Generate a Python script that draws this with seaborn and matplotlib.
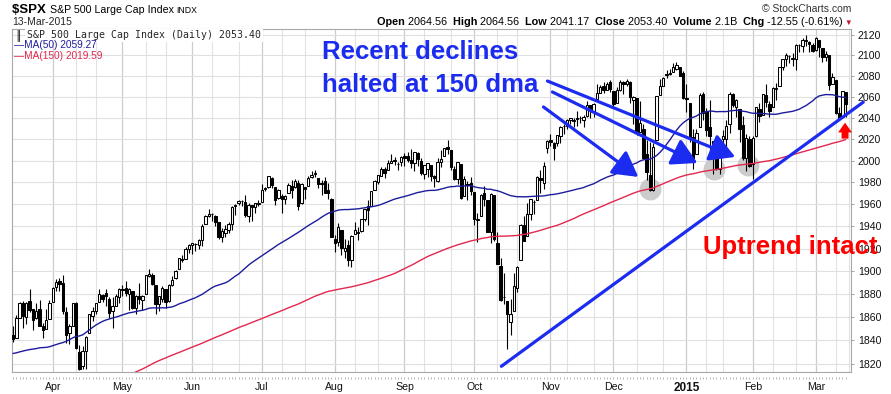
import numpy as np
import pandas as pd
import matplotlib
matplotlib.use("Agg")
import matplotlib.pyplot as plt
import matplotlib.transforms as mtransforms
from matplotlib.ticker import FixedLocator, NullLocator, FixedFormatter
import seaborn as sns

# =========================
# DATA
# =========================

holidays = ["2014-04-18", "2014-05-26", "2014-07-04", "2014-09-01", "2014-11-27",
            "2014-12-25", "2015-01-01", "2015-01-19", "2015-02-16"]
dates = pd.bdate_range("2014-03-14", "2015-03-13")
dates = dates[~dates.isin(pd.to_datetime(holidays))]

# closes before the visible window, only used to seed the moving averages
closes_before = [
    1697.4, 1692.8, 1698.7, 1691.8, 1681.6,
    1695.0, 1693.9, 1678.7, 1690.5, 1676.1, 1655.5, 1656.4, 1692.6, 1703.2, 1710.1, 1698.1, 1721.5,
    1733.2, 1744.5, 1744.7, 1754.7, 1746.4, 1752.1, 1759.8, 1762.1, 1771.9, 1763.3, 1756.5,
    1761.6, 1767.9, 1763.0, 1770.5, 1747.2, 1770.6, 1771.9, 1768.0, 1782.0, 1790.6, 1798.2, 1791.5,
    1787.9, 1781.4, 1795.9, 1804.8, 1802.5, 1802.8, 1807.2, 1805.8,
    1800.9, 1795.2, 1792.8, 1785.0, 1805.1, 1808.4, 1802.6, 1782.2, 1775.5, 1775.3, 1786.5, 1781.0,
    1810.7, 1809.6, 1818.3, 1828.0, 1833.3, 1842.0, 1841.4, 1841.1, 1848.4,
    1832.0, 1831.4, 1826.8, 1837.9, 1837.5, 1838.1, 1842.4, 1819.2, 1838.9, 1848.4, 1845.9, 1838.7,
    1843.8, 1844.9, 1828.5, 1790.3, 1781.6, 1792.5, 1774.2, 1794.2, 1782.6,
    1741.9, 1755.2, 1751.6, 1773.4, 1797.0, 1799.8, 1819.8, 1819.3, 1829.8, 1838.6, 1840.8, 1828.8,
    1839.8, 1836.3, 1847.6, 1845.1, 1845.2, 1854.3, 1859.5,
    1845.7, 1873.9, 1873.8, 1877.0, 1878.0, 1877.2, 1867.6, 1868.2, 1846.3,
]

opens = [
    1845, 1842, 1859, 1872, 1860, 1874, 1867, 1859, 1867, 1852, 1850, 1858,
    1873, 1886, 1891, 1890, 1864, 1846, 1852, 1872, 1830, 1818, 1831, 1846, 1861, 1865, 1873, 1879, 1881, 1876, 1865, 1870, 1877,
    1884, 1885, 1880, 1883, 1868, 1878, 1875, 1880, 1896, 1897, 1888, 1871, 1876, 1884, 1874, 1888, 1894, 1902, 1911, 1911, 1920,
    1923, 1924, 1923, 1928, 1942, 1949, 1951, 1949, 1944, 1930, 1934, 1937, 1942, 1958, 1961, 1963, 1962, 1949, 1959, 1957, 1961,
    1962, 1974, 1976, 1984, 1976, 1966, 1967, 1965, 1970, 1977, 1976, 1979, 1961, 1976, 1977, 1985, 1988, 1984, 1978, 1981, 1973, 1965,
    1929, 1926, 1937, 1918, 1923, 1910, 1933, 1935, 1936, 1947, 1958, 1958, 1973, 1980, 1986, 1992, 1991, 1998, 2000, 1997, 1999,
    2004, 2004, 2001, 1998, 2007, 2000, 1988, 1992, 1996, 1986, 1981, 1999, 2004, 2013, 2010, 1992, 1983, 1997, 1967, 1978, 1979,
    1971, 1946, 1949, 1970, 1964, 1935, 1968, 1925, 1905, 1877, 1874, 1856, 1865, 1885, 1910, 1941, 1931, 1951, 1962, 1964, 1984, 1979, 2012,
    2019, 2016, 2016, 2023, 2032, 2032, 2038, 2037, 2040, 2040, 2038, 2042, 2052, 2046, 2058, 2064, 2070, 2067, 2074,
    2066, 2054, 2067, 2074, 2072, 2074, 2057, 2059, 2027, 2030, 2006, 1987, 1973, 2019, 2062, 2070, 2081, 2083, 2084, 2087, 2089, 2083,
    2059, 2054, 2022, 2006, 2031, 2063, 2047, 2031, 2018, 2013, 1992, 2020, 2020, 2034, 2063, 2050, 2048, 2033, 2002, 2020,
    1997, 2023, 2048, 2043, 2062, 2053, 2050, 2068, 2070, 2089, 2097, 2099, 2097, 2097, 2110, 2109, 2115, 2113, 2110,
    2105, 2115, 2107, 2098, 2100, 2072, 2076, 2045, 2041, 2064.6,
]

highs = [
    1852, 1862, 1873, 1874, 1873, 1884, 1867, 1872, 1875, 1855, 1867, 1875,
    1886, 1893, 1894, 1897, 1869, 1854, 1872, 1873, 1836, 1835, 1844, 1863, 1869, 1872, 1884, 1880, 1884, 1877, 1877, 1880, 1885,
    1888, 1891, 1885, 1883, 1879, 1890, 1879, 1897, 1902, 1898, 1888, 1878, 1887, 1884, 1889, 1896, 1901, 1912, 1914, 1921, 1924,
    1925, 1925, 1929, 1942, 1950, 1956, 1952, 1950, 1944, 1938, 1941, 1944, 1958, 1960, 1964, 1964, 1968, 1961, 1959, 1961, 1964,
    1978, 1976, 1986, 1985, 1976, 1974, 1969, 1968, 1979, 1982, 1983, 1982, 1979, 1976, 1986, 1990, 1991, 1984, 1982, 1985, 1979, 1966,
    1932, 1943, 1937, 1929, 1928, 1932, 1944, 1939, 1947, 1956, 1964, 1972, 1982, 1987, 1994, 1994, 2001, 2006, 2003, 1999, 2004,
    2007, 2008, 2011, 2008, 2008, 2002, 1996, 1998, 1996, 1987, 2002, 2010, 2012, 2019, 2010, 1995, 1999, 1997, 1986, 1981, 1985,
    1971, 1952, 1969, 1977, 1964, 1970, 1968, 1935, 1912, 1898, 1874, 1876, 1898, 1905, 1942, 1949, 1961, 1965, 1964, 1986, 1991, 1999, 2019,
    2025, 2017, 2024, 2032, 2034, 2039, 2040, 2040, 2047, 2042, 2043, 2056, 2052, 2054, 2072, 2071, 2074, 2074, 2076,
    2066, 2069, 2076, 2075, 2077, 2075, 2061, 2059, 2056, 2034, 2019, 2017, 2016, 2061, 2077, 2079, 2086, 2087, 2093, 2094, 2089, 2085,
    2072, 2054, 2030, 2030, 2064, 2065, 2049, 2057, 2018, 2021, 2020, 2029, 2038, 2065, 2064, 2058, 2048, 2042, 2025, 2023,
    2023, 2050, 2054, 2063, 2072, 2056, 2069, 2073, 2089, 2097, 2102, 2100, 2102, 2111, 2111, 2117, 2120, 2114, 2112,
    2118, 2115, 2107, 2104, 2100, 2083, 2076, 2050, 2066, 2064.6,
]

lows = [
    1839, 1842, 1859, 1851, 1854, 1864, 1849, 1858, 1852, 1842, 1850, 1858,
    1873, 1883, 1883, 1863, 1838, 1837, 1852, 1833, 1815, 1816, 1816, 1846, 1857, 1863, 1873, 1873, 1870, 1859, 1851, 1870, 1872,
    1878, 1878, 1866, 1867, 1863, 1871, 1866, 1880, 1895, 1888, 1863, 1865, 1873, 1868, 1873, 1887, 1893, 1902, 1908, 1911, 1916,
    1915, 1918, 1920, 1922, 1942, 1948, 1945, 1940, 1929, 1926, 1930, 1934, 1937, 1950, 1959, 1958, 1948, 1944, 1945, 1952, 1958,
    1962, 1972, 1975, 1975, 1959, 1965, 1952, 1960, 1970, 1966, 1975, 1955, 1960, 1965, 1977, 1984, 1985, 1975, 1968, 1970, 1965, 1930,
    1917, 1922, 1914, 1912, 1905, 1904, 1933, 1928, 1935, 1945, 1941, 1958, 1973, 1978, 1986, 1984, 1991, 1998, 1996, 1991, 1995,
    1995, 1999, 1993, 1990, 1995, 1987, 1983, 1985, 1981, 1976, 1980, 1994, 2004, 2006, 1991, 1982, 1978, 1965, 1967, 1964, 1968,
    1941, 1926, 1949, 1958, 1935, 1925, 1927, 1906, 1874, 1871, 1833, 1845, 1865, 1882, 1910, 1927, 1931, 1946, 1951, 1964, 1970, 1974, 2007,
    2014, 2001, 2014, 2016, 2025, 2030, 2034, 2031, 2032, 2035, 2031, 2041, 2040, 2041, 2058, 2064, 2064, 2067, 2065,
    2050, 2054, 2066, 2063, 2070, 2054, 2034, 2024, 2027, 2002, 1982, 1972, 1972, 2019, 2062, 2070, 2078, 2081, 2084, 2086, 2080, 2058,
    2046, 2017, 1992, 2006, 2031, 2038, 2023, 2009, 1988, 1991, 1988, 2004, 2012, 2026, 2050, 2041, 2017, 2001, 1990, 1994,
    1983, 2022, 2036, 2043, 2050, 2041, 2050, 2057, 2070, 2086, 2090, 2093, 2090, 2086, 2103, 2103, 2109, 2103, 2103,
    2104, 2098, 2094, 2095, 2067, 2072, 2044, 2039, 2041, 2041.2,
]

closes = [
    1841.1, 1858.8, 1872.3, 1860.8, 1872.0, 1866.5, 1857.4, 1865.6, 1852.6, 1849.0, 1857.6, 1872.3,
    1885.5, 1890.9, 1888.8, 1865.1, 1845.0, 1852.0, 1872.2, 1833.1, 1815.7, 1830.6, 1843.0, 1862.3, 1864.9, 1871.9,
    1879.6, 1875.4, 1878.6, 1863.4, 1869.4, 1878.3, 1884.0,
    1883.7, 1881.1, 1884.7, 1867.7, 1878.2, 1875.6, 1878.5, 1896.7, 1897.5, 1888.5, 1870.9, 1877.9, 1885.1, 1872.8,
    1888.0, 1892.5, 1900.5, 1911.9, 1909.8, 1920.0, 1923.6,
    1925.0, 1924.2, 1927.9, 1940.5, 1949.4, 1951.3, 1950.8, 1943.9, 1930.1, 1936.2, 1937.8, 1942.0, 1957.0, 1959.5,
    1962.9, 1962.6, 1950.0, 1959.5, 1957.2, 1961.0, 1960.2,
    1973.3, 1974.6, 1985.4, 1977.7, 1963.7, 1972.8, 1964.7, 1967.6, 1977.1, 1973.3, 1981.6, 1958.1, 1978.2, 1973.6,
    1983.5, 1987.0, 1988.0, 1978.3, 1978.9, 1970.0, 1970.1, 1930.7,
    1925.2, 1939.0, 1920.2, 1920.2, 1909.6, 1931.6, 1936.9, 1933.8, 1946.7, 1955.2, 1955.1, 1971.7, 1981.6, 1986.5,
    1992.4, 1988.4, 1997.9, 2000.0, 2000.1, 1996.7, 2003.4,
    2002.3, 2000.7, 1997.7, 2007.7, 2001.5, 1988.4, 1995.7, 1997.5, 1985.5, 1984.1, 1999.0, 2001.6, 2011.4, 2010.4,
    1994.3, 1982.8, 1998.3, 1966.0, 1982.9, 1977.8, 1972.3,
    1946.2, 1946.2, 1967.9, 1964.8, 1935.1, 1968.9, 1928.2, 1906.1, 1874.7, 1877.7, 1862.5, 1862.8, 1886.8, 1904.0,
    1941.3, 1927.1, 1950.8, 1964.6, 1961.6, 1985.1, 1982.3, 1994.7, 2018.1,
    2017.8, 2012.1, 2023.6, 2031.2, 2031.9, 2038.3, 2039.7, 2038.3, 2039.3, 2039.8, 2041.3, 2051.8, 2048.7, 2052.8,
    2063.5, 2069.4, 2067.0, 2072.8, 2067.6,
    2053.4, 2066.6, 2074.3, 2071.9, 2075.4, 2060.3, 2059.8, 2026.1, 2035.3, 2002.3, 1989.6, 1972.7, 2012.9, 2061.2,
    2070.7, 2078.5, 2082.2, 2081.9, 2088.8, 2090.6, 2080.4, 2058.9,
    2058.2, 2020.6, 2002.6, 2025.9, 2062.1, 2044.8, 2028.3, 2023.0, 2011.3, 1992.7, 2019.4, 2022.6, 2032.1, 2063.2,
    2051.8, 2057.1, 2029.6, 2002.2, 2021.3, 1995.0,
    2020.9, 2050.0, 2041.5, 2062.5, 2055.5, 2046.7, 2068.6, 2068.5, 2088.5, 2097.0, 2100.3, 2099.7, 2097.5, 2110.3,
    2109.7, 2115.5, 2113.9, 2110.7, 2104.5,
    2117.4, 2107.8, 2098.5, 2101.0, 2071.3, 2079.4, 2044.2, 2040.2, 2066.0, 2053.4,
]

month_labels = ["Apr", "May", "Jun", "Jul", "Aug", "Sep", "Oct", "Nov", "Dec", "2015", "Feb", "Mar"]
price_ticks = list(range(1820, 2121, 20))

# hand-drawn annotations, in (bar index, price)
trend_x = [147.2, 256.3]
trend_y = [1818.0, 2055.0]
arrow_starts = [(159.9, 2050.4), (162.6, 2064.7), (161.1, 2075.2)]
arrow_tips = [(188.5, 1984.9), (206.3, 1997.8), (217.7, 2003.4)]
circle_x = [192.1, 211.4, 221.6]
circle_y = [1973.9, 1992.3, 1996.0]

assert len(dates) == len(opens) == len(highs) == len(lows) == len(closes) == 252

# =========================
# PREP
# =========================

W, H = 891, 394
BLUE = "#1b2cf0"
RED = "#ff0000"
MA50_C = "#1c1c9c"
MA150_C = "#e2274f"

o = np.array(opens, float)
c = np.array(closes, float)
hi = np.maximum(np.array(highs, float), np.maximum(o, c))
lo = np.minimum(np.array(lows, float), np.minimum(o, c))
n = len(c)
idx = np.arange(n)

allc = pd.Series(closes_before + closes)
ma50 = allc.rolling(50).mean().values[-n:]
ma150 = allc.rolling(150).mean().values[-n:]
ma_df = pd.DataFrame({"i": idx, "ma50": ma50, "ma150": ma150})

months = pd.Series(dates.month)
month_pos = list(np.where(months.diff().fillna(0).values != 0)[0])
minor_pos = []
for m in pd.period_range("2014-04", "2015-03", freq="M"):
    for d in (10, 20):
        day = pd.Timestamp(m.year, m.month, d)
        minor_pos.append(int(np.searchsorted(dates, day)))

# =========================
# PLOT
# =========================

sns.set_style("white")
plt.rcParams["font.family"] = ["Liberation Sans", "DejaVu Sans"]

fig = plt.figure(figsize=(W / 100, H / 100), dpi=100)
ax = fig.add_axes([12 / W, 1 - 372 / H, (851 - 12) / W, (372 - 29) / H])
ax.set_yscale("log")

# candles
ax.vlines(idx, lo, hi, color="black", lw=0.8, zorder=3)
bot = np.minimum(o, c)
hgt = np.maximum(np.abs(c - o), 0.4)
up = c >= o
ax.bar(idx[up], hgt[up], bottom=bot[up], width=0.72, facecolor="white",
       edgecolor="black", linewidth=0.75, zorder=4)
ax.bar(idx[~up], hgt[~up], bottom=bot[~up], width=0.72, facecolor="black",
       edgecolor="black", linewidth=0.75, zorder=4)

# moving averages
sns.lineplot(data=ma_df, x="i", y="ma50", color=MA50_C, lw=1.0, ax=ax, zorder=5)
sns.lineplot(data=ma_df, x="i", y="ma150", color=MA150_C, lw=1.0, ax=ax, zorder=5)

# gray circles on the 150 dma tests
ax.scatter(circle_x, circle_y, s=250, color="#c4c4c4", alpha=0.85, lw=0, zorder=2)

# arrows
for (x0, y0), (x1, y1) in zip(arrow_starts, arrow_tips):
    ax.annotate("", xy=(x1, y1), xytext=(x0, y0),
                arrowprops=dict(arrowstyle="-|>,head_length=0.8,head_width=0.45",
                                color=BLUE, lw=2.3, mutation_scale=19,
                                shrinkA=0, shrinkB=0), zorder=6)

# trend line
ax.plot(trend_x, trend_y, color=BLUE, lw=2.3, clip_on=False, zorder=6)

# red up arrow
ax.annotate("", xy=(250.8, 2035.5), xytext=(250.8, 2020.5),
            arrowprops=dict(arrowstyle="simple,head_length=0.7,head_width=1.0,tail_width=0.5",
                            color=RED, lw=0, mutation_scale=10, shrinkA=0, shrinkB=0),
            zorder=6)

# daily tick dots under the x axis
trans = mtransforms.blended_transform_factory(ax.transData, ax.transAxes)
ax.plot(idx, np.full(n, -0.018), transform=trans, ls="none", marker="|",
        markersize=1.6, mew=0.7, color="#b5b5b5", clip_on=False)

# axes
ax.set_xlim(-0.3, 252.6)
ax.set_ylim(1813.2, 2125.9)
ax.yaxis.set_major_locator(FixedLocator(price_ticks))
ax.yaxis.set_major_formatter(FixedFormatter([str(t) for t in price_ticks]))
ax.yaxis.set_minor_locator(NullLocator())
ax.yaxis.tick_right()
ax.tick_params(axis="y", which="major", length=2, width=0.6, color="#999999",
               labelsize=7.6, pad=3, labelcolor="#111111")
ax.xaxis.set_major_locator(FixedLocator(month_pos))
ax.xaxis.set_major_formatter(FixedFormatter(month_labels))
ax.xaxis.set_minor_locator(FixedLocator(minor_pos))
ax.tick_params(axis="x", which="both", length=0, labelsize=7.6, pad=7, labelcolor="#111111")
for lab in ax.get_xticklabels():
    if lab.get_text() == "2015":
        lab.set_fontweight("bold")
        lab.set_fontsize(8.5)
ax.set_xlabel("")
ax.set_ylabel("")

ax.grid(which="major", axis="x", color="#cccccc", lw=0.9, zorder=0)
ax.grid(which="minor", axis="x", color="#e2e2e2", lw=0.8, zorder=0)
ax.grid(which="major", axis="y", color="#e0e0e0", lw=0.8, zorder=0)
ax.set_axisbelow(True)
for s in ax.spines.values():
    s.set_color("#a8a8a8")
    s.set_linewidth(0.8)

# =========================
# TEXT
# =========================

def fx(x):
    return x / W


def fy(y):
    return 1 - y / H


renderer = fig.canvas.get_renderer()


def text_run(x0, y0, pieces, right=False):
    arts = []
    for s, w, col, size in pieces:
        arts.append(fig.text(0, fy(y0), s, fontsize=size, fontweight=w, color=col, va="baseline"))
    widths = [a.get_window_extent(renderer=renderer).width for a in arts]
    x = x0 - sum(widths) if right else x0
    for a, wd in zip(arts, widths):
        a.set_x(fx(x))
        x += wd


text_run(12, 13, [("$SPX ", "bold", "black", 9.5),
                  ("S&P 500 Large Cap Index ", "normal", "black", 7.7),
                  ("INDX", "normal", "black", 6.3)])
fig.text(fx(12), fy(25), "13-Mar-2015", fontsize=7.5, va="baseline")
fig.text(fx(851), fy(12), "\u00a9 StockCharts.com", fontsize=7.5, color="#333333",
         ha="right", va="baseline")
hdr = [("Open ", "bold"), ("2064.56  ", "normal"), ("High ", "bold"), ("2064.56  ", "normal"),
       ("Low ", "bold"), ("2041.17  ", "normal"), ("Close ", "bold"), ("2053.40  ", "normal"),
       ("Volume ", "bold"), ("2.1B  ", "normal"), ("Chg ", "bold"), ("-12.55 (-0.61%)", "normal")]
text_run(843, 25, [(s, w, "black", 7.8) for s, w in hdr], right=True)
fig.text(fx(844), fy(25), "\u25bc", fontsize=5.5, color="#c8102e", va="baseline")

# legend
fig.text(fx(27), fy(38.5), "S&P 500 Large Cap Index (Daily) 2053.40", fontsize=7.15,
         family="DejaVu Sans Mono", va="baseline",
         bbox=dict(facecolor="white", edgecolor="none", pad=1.2))
fig.text(fx(15), fy(38.5), "\u2551", fontsize=7, family="DejaVu Sans", va="baseline", color="black")
fig.text(fx(14), fy(48), "\u2014MA(50) 2059.27", fontsize=7.3, color=MA50_C, va="baseline")
fig.text(fx(14), fy(59), "\u2014MA(150) 2019.59", fontsize=7.3, color=MA150_C, va="baseline")

# annotations text
fig.text(fx(322), fy(59), "Recent declines", fontsize=18.5,
         fontweight="bold", color=BLUE, va="baseline")
fig.text(fx(322), fy(92), "halted at 150 dma", fontsize=18.5,
         fontweight="bold", color=BLUE, va="baseline")
fig.text(fx(703), fy(247), "Uptrend intact", fontsize=18.5, fontweight="bold",
         color=RED, va="center")

fig.savefig("out.png", dpi=100)
